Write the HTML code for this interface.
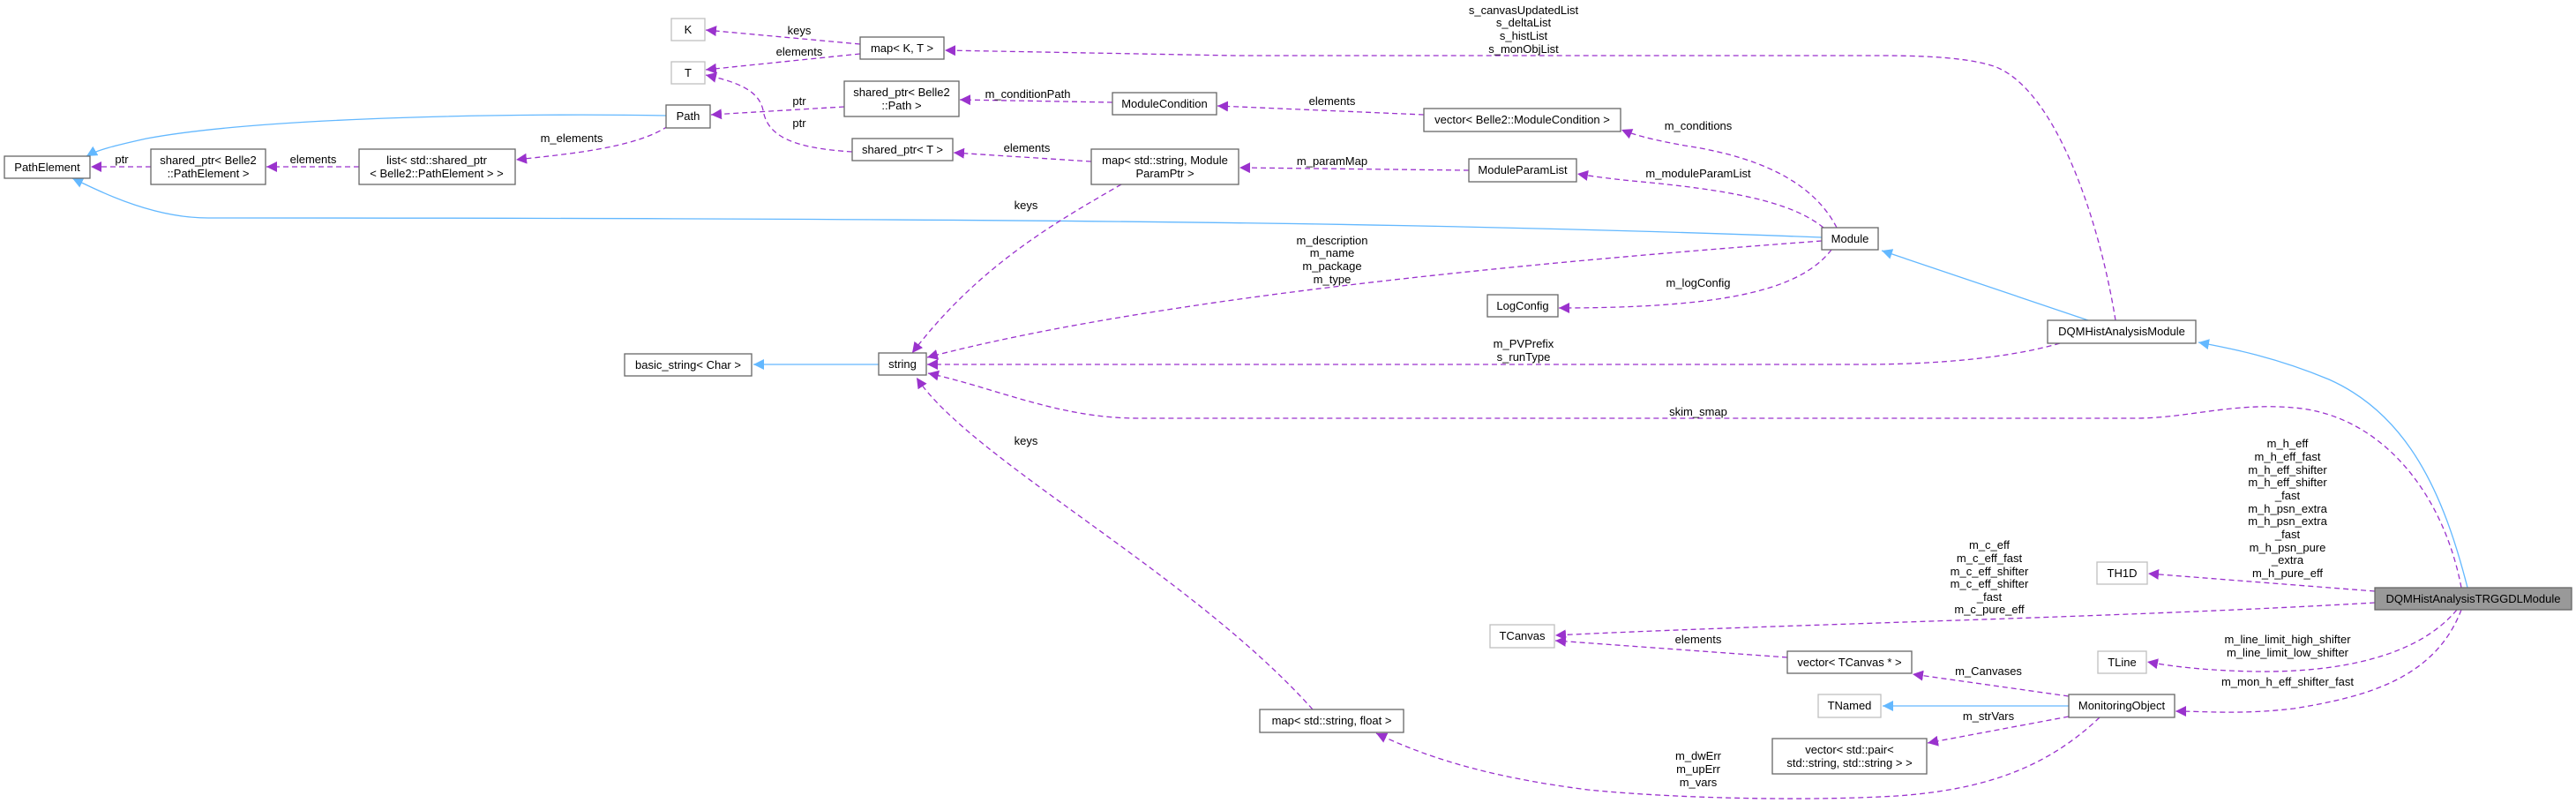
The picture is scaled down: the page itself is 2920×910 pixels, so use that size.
<!DOCTYPE html>
<html><head><meta charset="utf-8"><style>
html,body{margin:0;padding:0;background:#fff}
svg{display:block}
text{font-family:"Liberation Sans",Arial,sans-serif;font-size:13px;fill:#000}
.n{fill:#fff;stroke:#666;stroke-width:1.3}
.l{fill:#fff;stroke:#bfbfbf;stroke-width:1.3}
.d{fill:none;stroke:#9a32cd;stroke-width:1.3;stroke-dasharray:6,4}
.b{fill:none;stroke:#63b8ff;stroke-width:1.3}
</style></head><body>
<svg width="2920" height="910" viewBox="0 0 2920 910" xmlns="http://www.w3.org/2000/svg">
<defs>
<marker id="ap" markerUnits="userSpaceOnUse" markerWidth="14" markerHeight="12" refX="12" refY="6" orient="auto"><path d="M0,0 L12,6 L0,12 z" fill="#9a32cd"/></marker>
<marker id="ab" markerUnits="userSpaceOnUse" markerWidth="14" markerHeight="12" refX="12" refY="6" orient="auto"><path d="M0,0 L12,6 L0,12 z" fill="#63b8ff"/></marker>
</defs>

<!-- blue edges -->
<path class="b" marker-end="url(#ab)" d="M755,131 C600,128 300,132 166,157 C130,165 110,170 98,177"/>
<path class="b" marker-end="url(#ab)" d="M2065,269 C1700,255 1300,247 236,247 C170,247 110,215 82,202"/>
<path class="b" marker-end="url(#ab)" d="M996,413 L854,413"/>
<path class="b" marker-end="url(#ab)" d="M2367,363 L2133,284"/>
<path class="b" marker-end="url(#ab)" d="M2797,666 C2770,560 2730,470 2640,430 C2580,405 2530,395 2492,388"/>
<path class="b" marker-end="url(#ab)" d="M2345,800 L2134,800"/>

<!-- purple edges -->
<path class="d" marker-end="url(#ap)" d="M975,50 L800,34"/>
<path class="d" marker-end="url(#ap)" d="M975,61 L800,79"/>
<path class="d" marker-end="url(#ap)" d="M966,172 C900,168 870,155 865,125 C860,100 830,92 800,85"/>
<path class="d" marker-end="url(#ap)" d="M957,121 L806,130"/>
<path class="d" marker-end="url(#ap)" d="M757,143 C720,168 640,175 585,181"/>
<path class="d" marker-end="url(#ap)" d="M407,189 L302,189"/>
<path class="d" marker-end="url(#ap)" d="M171,189 L103,189"/>
<path class="d" marker-end="url(#ap)" d="M1261,116 L1088,113"/>
<path class="d" marker-end="url(#ap)" d="M1614,130 L1380,120"/>
<path class="d" marker-end="url(#ap)" d="M2082,258 C2060,215 2010,180 1910,165 C1870,158 1850,152 1838,147"/>
<path class="d" marker-end="url(#ap)" d="M1237,183 L1081,173"/>
<path class="d" marker-end="url(#ap)" d="M1665,193 L1405,190"/>
<path class="d" marker-end="url(#ap)" d="M2067,258 C2030,228 1960,215 1850,205 C1820,202 1800,199 1788,197"/>
<path class="d" marker-end="url(#ap)" d="M1271,209 C1200,250 1110,300 1034,400"/>
<path class="d" marker-end="url(#ap)" d="M2065,273 C1700,300 1300,340 1051,405"/>
<path class="d" marker-end="url(#ap)" d="M2076,283 C2040,330 1950,349 1767,349"/>
<path class="d" marker-end="url(#ap)" d="M2398,363 C2380,250 2330,100 2260,75 C2220,62 2150,63 2105,63 L1400,63 L1071,57"/>
<path class="d" marker-end="url(#ap)" d="M2335,389 C2280,405 2200,413 2110,413 L1051,413"/>
<path class="d" marker-end="url(#ap)" d="M2790,666 C2770,560 2700,470 2600,462 C2530,456 2480,474 2420,474 L1290,474 C1200,474 1130,440 1052,423"/>
<path class="d" marker-end="url(#ap)" d="M1488,804 C1350,650 1100,520 1039,428"/>
<path class="d" marker-end="url(#ap)" d="M2692,670 L2435,650"/>
<path class="d" marker-end="url(#ap)" d="M2692,683 C2400,700 2000,708 1763,720"/>
<path class="d" marker-end="url(#ap)" d="M2026,745 L1763,726"/>
<path class="d" marker-end="url(#ap)" d="M2345,789 L2168,764"/>
<path class="d" marker-end="url(#ap)" d="M2785,691 C2740,745 2650,762 2558,761 C2500,760 2460,755 2434,750"/>
<path class="d" marker-end="url(#ap)" d="M2790,691 C2760,770 2680,790 2600,803 C2540,810 2500,806 2466,806"/>
<path class="d" marker-end="url(#ap)" d="M2345,812 L2185,842"/>
<path class="d" marker-end="url(#ap)" d="M2380,813 C2320,870 2250,895 2150,902 C2050,908 1900,905 1800,895 C1680,880 1610,855 1560,831"/>

<!-- nodes -->
<rect class="n" x="5" y="177" width="97" height="25"/><text x="53.5" y="194" text-anchor="middle">PathElement</text>
<rect class="n" x="171" y="169" width="130" height="40"/><text x="236" y="186" text-anchor="middle">shared_ptr&lt; Belle2</text><text x="236" y="201" text-anchor="middle">::PathElement &gt;</text>
<rect class="n" x="407" y="169" width="177" height="40"/><text x="495" y="186" text-anchor="middle">list&lt; std::shared_ptr</text><text x="495" y="201" text-anchor="middle">&lt; Belle2::PathElement &gt; &gt;</text>
<rect class="n" x="755" y="119" width="50" height="26"/><text x="780" y="136" text-anchor="middle">Path</text>
<rect class="l" x="761" y="21" width="38" height="25"/><text x="780" y="38" text-anchor="middle">K</text>
<rect class="l" x="761" y="70" width="38" height="25"/><text x="780" y="87" text-anchor="middle">T</text>
<rect class="n" x="975" y="42" width="95" height="25"/><text x="1022.5" y="59" text-anchor="middle">map&lt; K, T &gt;</text>
<rect class="n" x="957" y="92" width="130" height="40"/><text x="1022" y="109" text-anchor="middle">shared_ptr&lt; Belle2</text><text x="1022" y="124" text-anchor="middle">::Path &gt;</text>
<rect class="n" x="966" y="157" width="114" height="25"/><text x="1023" y="174" text-anchor="middle">shared_ptr&lt; T &gt;</text>
<rect class="n" x="708" y="401" width="144" height="25"/><text x="780" y="418" text-anchor="middle">basic_string&lt; Char &gt;</text>
<rect class="n" x="996" y="400" width="54" height="25"/><text x="1023" y="417" text-anchor="middle">string</text>
<rect class="n" x="1261" y="105" width="118" height="25"/><text x="1320" y="122" text-anchor="middle">ModuleCondition</text>
<rect class="n" x="1614" y="123" width="223" height="26"/><text x="1725.5" y="140" text-anchor="middle">vector&lt; Belle2::ModuleCondition &gt;</text>
<rect class="n" x="1237" y="169" width="167" height="40"/><text x="1320.5" y="186" text-anchor="middle">map&lt; std::string, Module</text><text x="1320.5" y="201" text-anchor="middle">ParamPtr &gt;</text>
<rect class="n" x="1665" y="180" width="122" height="26"/><text x="1726" y="197" text-anchor="middle">ModuleParamList</text>
<rect class="n" x="1686" y="334" width="80" height="25"/><text x="1726" y="351" text-anchor="middle">LogConfig</text>
<rect class="n" x="2065" y="258" width="64" height="25"/><text x="2097" y="275" text-anchor="middle">Module</text>
<rect class="n" x="2321" y="363" width="168" height="26"/><text x="2405" y="380" text-anchor="middle">DQMHistAnalysisModule</text>
<rect class="l" x="1689" y="708" width="73" height="26"/><text x="1725.5" y="725" text-anchor="middle">TCanvas</text>
<rect class="n" x="1428" y="804" width="163" height="26"/><text x="1509.5" y="821" text-anchor="middle">map&lt; std::string, float &gt;</text>
<rect x="2692" y="666" width="223" height="25" fill="#999" stroke="#666" stroke-width="1.3"/><text x="2803.5" y="683" text-anchor="middle">DQMHistAnalysisTRGGDLModule</text>
<rect class="l" x="2377" y="637" width="57" height="25"/><text x="2405.5" y="654" text-anchor="middle">TH1D</text>
<rect class="l" x="2378" y="738" width="55" height="25"/><text x="2405.5" y="755" text-anchor="middle">TLine</text>
<rect class="n" x="2026" y="738" width="141" height="25"/><text x="2096.5" y="755" text-anchor="middle">vector&lt; TCanvas * &gt;</text>
<rect class="l" x="2061" y="787" width="71" height="26"/><text x="2096.5" y="804" text-anchor="middle">TNamed</text>
<rect class="n" x="2345" y="787" width="120" height="26"/><text x="2405" y="804" text-anchor="middle">MonitoringObject</text>
<rect class="n" x="2009" y="837" width="175" height="40"/><text x="2096.5" y="854" text-anchor="middle">vector&lt; std::pair&lt;</text><text x="2096.5" y="869" text-anchor="middle">std::string, std::string &gt; &gt;</text>

<!-- edge labels -->
<g text-anchor="middle">
<text x="906" y="39">keys</text>
<text x="906" y="63">elements</text>
<text x="906" y="119">ptr</text>
<text x="906" y="144">ptr</text>
<text x="648" y="161">m_elements</text>
<text x="355" y="185">elements</text>
<text x="138" y="185">ptr</text>
<text x="1165" y="111">m_conditionPath</text>
<text x="1510" y="119">elements</text>
<text x="1164" y="172">elements</text>
<text x="1510" y="187">m_paramMap</text>
<text x="1925" y="147">m_conditions</text>
<text x="1925" y="201">m_moduleParamList</text>
<text x="1163" y="237">keys</text>
<text x="1510" y="277">m_description</text>
<text x="1510" y="291">m_name</text>
<text x="1510" y="306">m_package</text>
<text x="1510" y="321">m_type</text>
<text x="1925" y="325">m_logConfig</text>
<text x="1727" y="16">s_canvasUpdatedList</text>
<text x="1727" y="30">s_deltaList</text>
<text x="1727" y="45">s_histList</text>
<text x="1727" y="60">s_monObjList</text>
<text x="1727" y="394">m_PVPrefix</text>
<text x="1727" y="409">s_runType</text>
<text x="1925" y="471">skim_smap</text>
<text x="1163" y="504">keys</text>
<text x="1925" y="729">elements</text>
<text x="1925" y="861">m_dwErr</text>
<text x="1925" y="876">m_upErr</text>
<text x="1925" y="891">m_vars</text>
<text x="2593" y="507">m_h_eff</text>
<text x="2593" y="522">m_h_eff_fast</text>
<text x="2593" y="537">m_h_eff_shifter</text>
<text x="2593" y="551">m_h_eff_shifter</text>
<text x="2593" y="566">_fast</text>
<text x="2593" y="581">m_h_psn_extra</text>
<text x="2593" y="595">m_h_psn_extra</text>
<text x="2593" y="610">_fast</text>
<text x="2593" y="625">m_h_psn_pure</text>
<text x="2593" y="639">_extra</text>
<text x="2593" y="654">m_h_pure_eff</text>
<text x="2255" y="622">m_c_eff</text>
<text x="2255" y="637">m_c_eff_fast</text>
<text x="2255" y="652">m_c_eff_shifter</text>
<text x="2255" y="666">m_c_eff_shifter</text>
<text x="2255" y="681">_fast</text>
<text x="2255" y="695">m_c_pure_eff</text>
<text x="2593" y="729">m_line_limit_high_shifter</text>
<text x="2593" y="744">m_line_limit_low_shifter</text>
<text x="2254" y="765">m_Canvases</text>
<text x="2593" y="777">m_mon_h_eff_shifter_fast</text>
<text x="2254" y="816">m_strVars</text>
</g>
</svg>
</body></html>
